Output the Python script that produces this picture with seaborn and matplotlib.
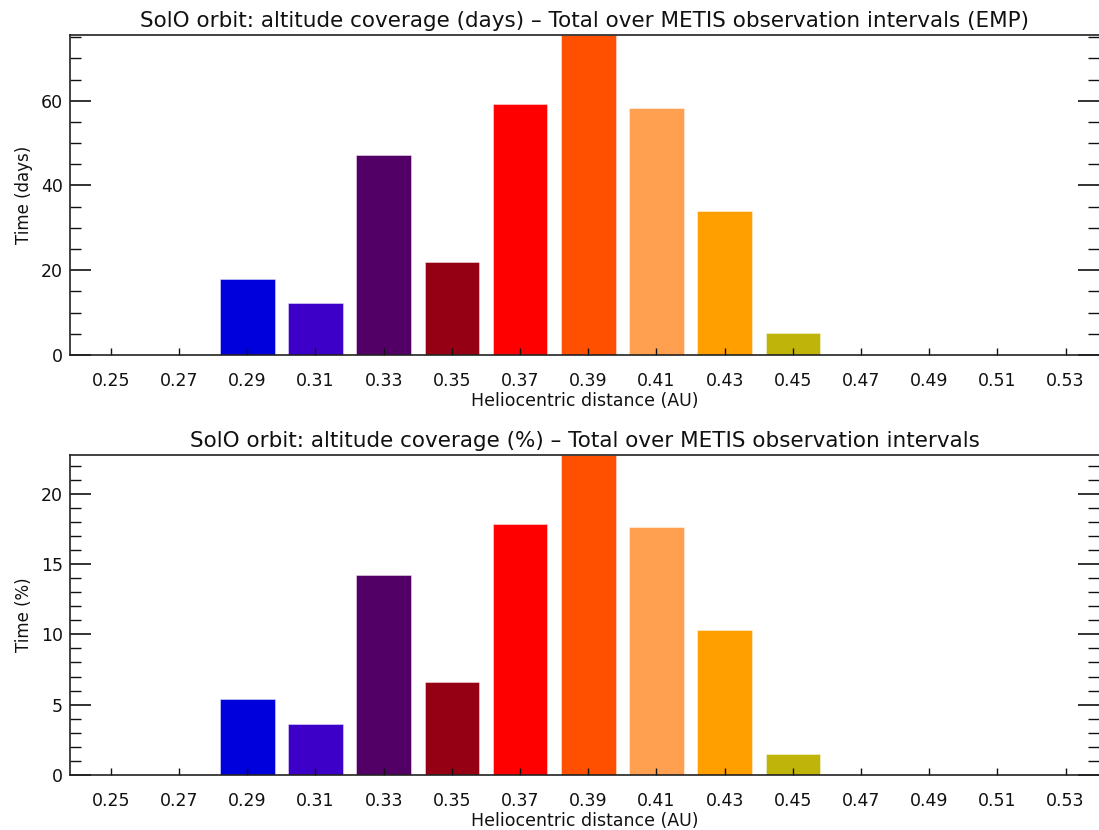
import matplotlib
matplotlib.use("Agg")
import matplotlib.pyplot as plt
from matplotlib.ticker import MultipleLocator
import pandas as pd
import seaborn as sns

# Heliocentric distance bins (AU)
distance_bins = [0.25, 0.27, 0.29, 0.31, 0.33, 0.35, 0.37, 0.39,
                 0.41, 0.43, 0.45, 0.47, 0.49, 0.51, 0.53]
bin_labels = ["0.25", "0.27", "0.29", "0.31", "0.33", "0.35", "0.37", "0.39",
              "0.41", "0.43", "0.45", "0.47", "0.49", "0.51", "0.53"]

# Time spent in each bin over the METIS observation intervals
time_days = [0.0, 0.0, 18.0, 12.2, 47.2, 22.0, 59.2, 75.5,
             58.3, 34.0, 5.1, 0.0, 0.0, 0.0, 0.0]
time_percent = [0.0, 0.0, 5.4, 3.65, 14.25, 6.63, 17.85, 22.75,
                17.6, 10.28, 1.52, 0.0, 0.0, 0.0, 0.0]

bar_colors = ["#ffffff", "#ffffff", "#0000dc", "#3c00c8", "#520066", "#960014",
              "#ff0000", "#ff5000", "#ffa050", "#ffa000", "#beb40a",
              "#ffffff", "#ffffff", "#ffffff", "#ffffff"]

titles = [
    "SolO orbit: altitude coverage (days) – Total over METIS observation intervals (EMP)",
    "SolO orbit: altitude coverage (%) – Total over METIS observation intervals",
]
y_labels = ["Time (days)", "Time (%)"]
x_label = "Heliocentric distance (AU)"

sns.set_theme(style="white")
plt.rcParams["font.family"] = ["DejaVu Sans"]
plt.rcParams["text.color"] = "#111111"
plt.rcParams["axes.labelcolor"] = "#111111"
plt.rcParams["xtick.color"] = "#111111"
plt.rcParams["ytick.color"] = "#111111"

df = pd.DataFrame({
    "distance": distance_bins,
    "label": bin_labels,
    "days": time_days,
    "percent": time_percent,
})
palette = dict(zip(bin_labels, bar_colors))

fig = plt.figure(figsize=(10.99, 8.30), dpi=100)
W, H = 1099, 830
panels = [
    # (left, top, bottom) in pixels, value column, y major/minor step
    (70, 35, 355, "days", 20, 5),
    (70, 455, 775, "percent", 5, 1),
]

for i, (left, top, bottom, col, major, minor) in enumerate(panels):
    ax = fig.add_axes([left / W, 1 - bottom / H, 1 - left / W, (bottom - top) / H])
    sns.barplot(data=df, x="distance", y=col, hue="label", palette=palette,
                native_scale=True, dodge=False, width=0.8, legend=False,
                linewidth=0.6, edgecolor="#ffffff80", saturation=1.0, ax=ax)
    ax.set_axisbelow(False)
    ax.set_xlim(0.238, 0.5398)
    ax.set_ylim(0, max(df[col]))
    ax.set_xticks(distance_bins)
    ax.set_xticklabels(bin_labels)
    ax.yaxis.set_major_locator(MultipleLocator(major))
    ax.yaxis.set_minor_locator(MultipleLocator(minor))
    ax.tick_params(axis="x", which="major", direction="in", length=5, width=1,
                   pad=12, labelsize=12.5, top=False, bottom=True)
    ax.tick_params(axis="y", which="major", direction="in", length=15, width=1.2,
                   pad=5, labelsize=12.5, left=True, right=True)
    ax.tick_params(axis="y", which="minor", direction="in", length=8, width=1,
                   left=True, right=True)
    for side in ["left", "bottom", "top"]:
        ax.spines[side].set_visible(True)
        ax.spines[side].set_color("#222222")
        ax.spines[side].set_linewidth(1.2)
        ax.spines[side].set_zorder(5)
    ax.spines["right"].set_visible(False)
    ax.set_title(titles[i], fontsize=15.5, pad=6)
    ax.set_ylabel(y_labels[i], fontsize=12, labelpad=6)
    ax.set_xlabel(x_label, fontsize=12.5, labelpad=2)

fig.savefig("out.png", dpi=100, facecolor="white")
